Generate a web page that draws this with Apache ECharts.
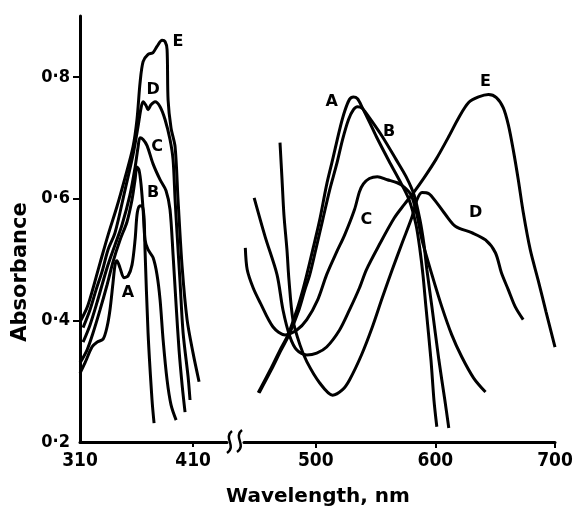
<!DOCTYPE html>
<html>
<head>
<meta charset="utf-8">
<script src="https://cdn.jsdelivr.net/npm/echarts@6/dist/echarts.min.js"></script>
<style>
  html, body { margin: 0; padding: 0; background: #fff; }
  #chart { width: 573px; height: 512px; }
</style>
</head>
<body>
<div id="chart"></div>
<script>
// left panel: UV band, [wavelength nm, absorbance]
var uvA = [[310,0.313],[314.4,0.33],[320.6,0.356],[325,0.364],[330.4,0.369],[333.9,0.389],[336.5,0.417],[339.2,0.462],[341,0.491],[342.7,0.498],[345.4,0.486],[348.9,0.47],[352.5,0.473],[356,0.491],[358.7,0.532],[360.4,0.573],[362.2,0.587],[364.9,0.588],[366.6,0.57],[367.5,0.516],[370.2,0.379],[373.7,0.269],[375.5,0.231]];
var uvB = [[310,0.33],[316.2,0.351],[321.5,0.379],[327.7,0.417],[333.9,0.458],[339.2,0.496],[345.4,0.532],[351.6,0.562],[356,0.598],[358.7,0.631],[360.4,0.652],[362.2,0.647],[364,0.623],[365.8,0.582],[367.5,0.532],[370.2,0.516],[374.6,0.503],[378.1,0.475],[380.8,0.434],[383.5,0.368],[387,0.302],[390.5,0.261],[395,0.236]];
var uvC = [[312.7,0.364],[318.8,0.392],[325,0.429],[333.9,0.486],[341,0.524],[347.2,0.557],[354.2,0.606],[358.7,0.651],[361.3,0.684],[363.1,0.7],[365.8,0.697],[369.3,0.687],[374.6,0.657],[380.8,0.631],[386.1,0.613],[389.6,0.582],[392.3,0.508],[395,0.425],[397.6,0.351],[400.3,0.294],[402.9,0.249]];
var uvD = [[312.7,0.388],[318.8,0.417],[324.2,0.45],[329.5,0.48],[334.8,0.516],[341,0.544],[349.8,0.614],[356.9,0.672],[361.3,0.718],[364,0.749],[365.8,0.759],[368.4,0.753],[370.2,0.746],[372.8,0.754],[376.4,0.759],[380.8,0.751],[385.2,0.73],[389.6,0.697],[392.3,0.664],[394.1,0.598],[395.8,0.544],[398.5,0.462],[401.2,0.379],[405.6,0.307],[407.3,0.269]];
var uvE = [[310,0.397],[317.1,0.425],[327.7,0.494],[334.8,0.54],[342.7,0.587],[349.8,0.634],[356.9,0.685],[360.4,0.73],[363.1,0.79],[365.8,0.825],[370.2,0.837],[374.6,0.84],[378.1,0.85],[382.6,0.86],[385.2,0.858],[387,0.845],[387.9,0.762],[390.5,0.716],[394.1,0.685],[396.7,0.598],[400.3,0.488],[404.7,0.401],[410,0.346],[415.3,0.299]];

// right panel: visible band
var visA = [[451.9,0.281],[461.8,0.318],[470.1,0.351],[476.8,0.376],[484.2,0.417],[489.2,0.45],[492.5,0.475],[497.5,0.516],[503.3,0.565],[509.1,0.623],[514.1,0.664],[519.9,0.713],[524.1,0.743],[528.2,0.763],[531.5,0.767],[534.9,0.764],[539,0.749],[544.8,0.726],[550.6,0.702],[561.4,0.661],[569.7,0.631],[578,0.598],[583.8,0.557],[587.1,0.516],[589.6,0.475],[592.1,0.422],[596.3,0.335],[598.8,0.269],[601.2,0.225]];
var visB = [[452.7,0.281],[462.7,0.318],[471,0.351],[477.6,0.376],[485.9,0.417],[490.9,0.45],[495,0.475],[500,0.516],[505.8,0.565],[511.6,0.614],[517.4,0.656],[522.4,0.697],[527.4,0.73],[531.5,0.746],[534.9,0.751],[539,0.748],[544.8,0.733],[555.6,0.702],[567.2,0.664],[575.5,0.636],[582.2,0.606],[587.1,0.565],[590.5,0.524],[592.9,0.483],[597.1,0.422],[602.9,0.335],[607.9,0.269],[611.2,0.223]];
var visC = [[441.1,0.519],[442.7,0.483],[447.7,0.453],[453.5,0.429],[464.3,0.389],[474.3,0.376],[484.2,0.384],[492.5,0.401],[501.7,0.434],[509.1,0.475],[517.4,0.512],[524.1,0.54],[532.4,0.582],[536.5,0.611],[539.8,0.624],[544.8,0.633],[551.5,0.636],[559.8,0.631],[568.1,0.626],[573.9,0.619],[579.7,0.606],[584.6,0.573],[588.8,0.532],[597.1,0.475],[605.4,0.422],[613.7,0.376],[622,0.34],[632,0.305],[641.9,0.282]];
var visD = [[470.1,0.692],[471.8,0.631],[473.4,0.573],[475.9,0.516],[477.6,0.466],[480.9,0.401],[486.7,0.36],[492.5,0.332],[503.3,0.297],[514.1,0.277],[522.4,0.286],[528.2,0.302],[538.2,0.343],[547.3,0.389],[555.6,0.437],[563.9,0.483],[572.2,0.527],[580.5,0.57],[584.6,0.598],[588.8,0.61],[594.6,0.608],[600.4,0.595],[608.7,0.573],[617,0.554],[630.3,0.544],[641.9,0.532],[650.2,0.511],[655.2,0.478],[661,0.45],[666.8,0.422],[673.4,0.401]];
var visE = [[448.5,0.601],[457.7,0.537],[467.6,0.475],[472.6,0.417],[478.4,0.373],[484.2,0.351],[492.5,0.343],[500.8,0.346],[509.1,0.356],[519.9,0.384],[528.2,0.417],[536.5,0.453],[542.3,0.483],[553.1,0.524],[565.6,0.568],[573.9,0.59],[582.2,0.611],[590.5,0.634],[600.4,0.664],[611.2,0.702],[619.5,0.733],[627.8,0.758],[636.1,0.767],[644.4,0.771],[651,0.766],[656.8,0.749],[661,0.721],[665.1,0.68],[669.3,0.631],[673.4,0.578],[679.3,0.516],[685.9,0.466],[692.5,0.414],[700,0.356]];

var curveNames = ['A', 'B', 'C', 'D', 'E'];
var uvTicks = [310, 410];
var visTicks = [500, 600, 700];
var absTicks = [0.2, 0.4, 0.6, 0.8];
// where each curve letter sits, in data units
var uvLabelAt = [[352.5,0.445],[374.6,0.61],[378.1,0.685],[374.6,0.779],[396.7,0.858]];
var visLabelAt = [[513.3,0.759],[561.4,0.71],[542.3,0.565],[633.6,0.577],[641.9,0.792]];

var tickFont = "'Liberation Sans Narrow', 'DejaVu Sans Condensed', sans-serif";
var textFont = "'DejaVu Sans', sans-serif";

function curve(data, idx, name, at) {
    return {
        type: 'line',
        name: name,
        xAxisIndex: idx,
        yAxisIndex: idx,
        data: data,
        showSymbol: false,
        smooth: 0.3,
        silent: true,
        lineStyle: { color: '#000', width: 3 },
        markPoint: {
            symbol: 'circle',
            symbolSize: 1,
            silent: true,
            itemStyle: { color: 'rgba(0,0,0,0)' },
            label: {
                show: true, position: 'inside', formatter: name,
                color: '#000', fontFamily: textFont, fontWeight: 'bold', fontSize: 16
            },
            data: [{ coord: at }]
        }
    };
}

var uvSets = [uvA, uvB, uvC, uvD, uvE];
var visSets = [visA, visB, visC, visD, visE];
var series = [];
curveNames.forEach(function (n, i) {
    series.push(curve(uvSets[i], 0, n, uvLabelAt[i]));
    series.push(curve(visSets[i], 1, n, visLabelAt[i]));
});

var axisLine = { show: true, lineStyle: { color: '#000', width: 3 } };
var xLabel = { color: '#000', fontFamily: tickFont, fontWeight: 'bold', fontSize: 19, margin: 10 };

var option = {
    animation: false,
    backgroundColor: '#fff',
    grid: [
        { left: 80, top: 16, width: 147, bottom: 70, outerBoundsMode: 'none' },
        { left: 244, top: 16, width: 311, bottom: 70, outerBoundsMode: 'none' }
    ],
    xAxis: [
        {
            type: 'value', gridIndex: 0, min: 310, max: 440,
            axisLine: axisLine, splitLine: { show: false },
            axisTick: { show: true, customValues: [410], length: 5, lineStyle: { color: '#000', width: 2 } },
            axisLabel: Object.assign({ customValues: uvTicks }, xLabel)
        },
        {
            type: 'value', gridIndex: 1, min: 440, max: 700,
            axisLine: axisLine, splitLine: { show: false },
            axisTick: { show: true, customValues: visTicks, length: 6, lineStyle: { color: '#000', width: 2 } },
            axisLabel: Object.assign({ customValues: visTicks }, xLabel)
        }
    ],
    yAxis: [
        {
            type: 'value', gridIndex: 0, min: 0.2, max: 0.9,
            axisLine: axisLine, splitLine: { show: false },
            axisTick: { show: true, customValues: [0.4, 0.6, 0.8], length: 7, lineStyle: { color: '#000', width: 2 } },
            axisLabel: {
                customValues: absTicks, color: '#000', fontFamily: tickFont, fontWeight: 'bold',
                fontSize: 18, margin: 10,
                formatter: function (v) { return v.toFixed(1).replace('.', '\u00b7'); }
            }
        },
        {
            type: 'value', gridIndex: 1, min: 0.2, max: 0.9,
            axisLine: { show: false }, axisTick: { show: false },
            axisLabel: { show: false }, splitLine: { show: false }
        }
    ],
    graphic: [
        {
            type: 'text', x: 21, y: 272, rotation: Math.PI / 2,
            style: {
                text: 'Absorbance', fill: '#000', font: 'bold 21px ' + textFont,
                textAlign: 'center', textVerticalAlign: 'middle'
            }
        },
        {
            type: 'text', x: 318, y: 497,
            style: {
                text: 'Wavelength, nm', fill: '#000', font: 'bold 20px ' + textFont,
                textAlign: 'center', textVerticalAlign: 'middle'
            }
        },
        // axis break marks
        {
            type: 'bezierCurve',
            shape: { x1: 232, y1: 431, x2: 227, y2: 453, cpx1: 223, cpy1: 438, cpx2: 237, cpy2: 446 },
            style: { stroke: '#000', lineWidth: 2.5, fill: null }
        },
        {
            type: 'bezierCurve',
            shape: { x1: 242, y1: 430, x2: 237, y2: 452, cpx1: 233, cpy1: 437, cpx2: 247, cpy2: 445 },
            style: { stroke: '#000', lineWidth: 2.5, fill: null }
        }
    ],
    series: series
};

var chart = echarts.init(document.getElementById('chart'));
chart.setOption(option);
</script>
</body>
</html>
